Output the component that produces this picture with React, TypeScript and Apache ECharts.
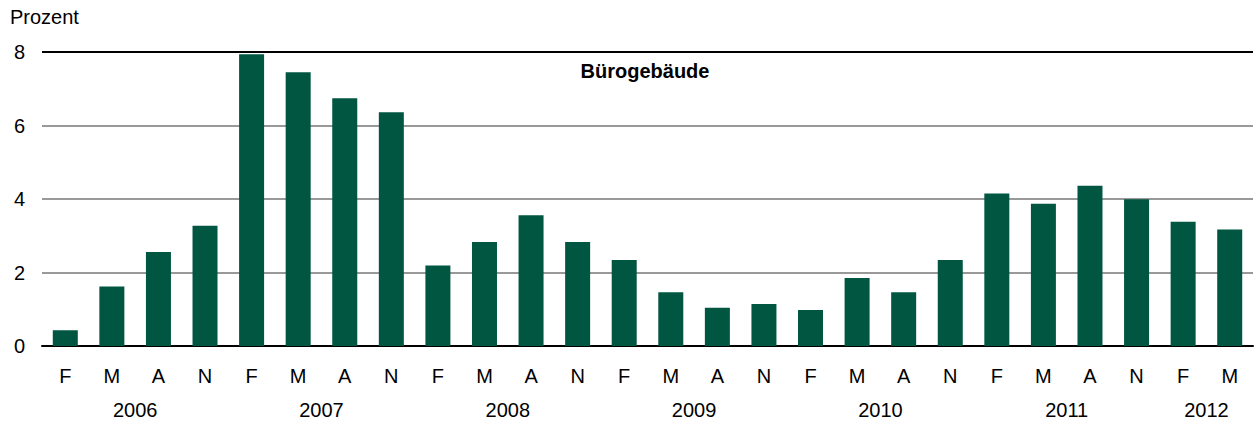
import React, { useEffect, useRef } from "react";
import * as echarts from "echarts";

const quarters = [
  "F", "M", "A", "N",
  "F", "M", "A", "N",
  "F", "M", "A", "N",
  "F", "M", "A", "N",
  "F", "M", "A", "N",
  "F", "M", "A", "N",
  "F", "M",
];
const values = [
  0.43, 1.62, 2.56, 3.27,
  7.94, 7.45, 6.74, 6.36,
  2.19, 2.83, 3.56, 2.83,
  2.34, 1.46, 1.04, 1.14,
  0.98, 1.85, 1.46, 2.34,
  4.15, 3.87, 4.36, 3.99,
  3.38, 3.17,
];
const years = ["2006", "2007", "2008", "2009", "2010", "2011", "2012"];
const yearCounts = [4, 4, 4, 4, 4, 4, 2];
const yTicks = [0, 2, 4, 6, 8];

const FONT = "'Liberation Sans', Arial, Helvetica, sans-serif";

export default function App() {
  const ref = useRef<HTMLDivElement>(null);
  useEffect(() => {
    if (!ref.current) return;
    const chart = echarts.init(ref.current, undefined, { renderer: "svg" });
    const yearLabelAt: Record<string, string> = {};
    let cum = 0;
    yearCounts.forEach((c, i) => {
      yearLabelAt[String(cum + c / 2)] = years[i];
      cum += c;
    });
    chart.setOption({
      animation: false,
      textStyle: { fontFamily: FONT },
      grid: { left: 42, right: 4, top: 52, bottom: 80, containLabel: false },
      graphic: [
        {
          type: "text",
          left: 10,
          top: 7,
          style: { text: "Prozent", fontSize: 20, fontFamily: FONT, fill: "#000" },
        },
        {
          type: "text",
          x: 645,
          y: 71,
          style: {
            text: "Bürogebäude",
            fontSize: 20,
            fontWeight: "bold",
            fontFamily: FONT,
            fill: "#000",
            align: "center",
            verticalAlign: "middle",
          },
        },
      ],
      xAxis: [
        {
          type: "category",
          data: quarters,
          axisLine: { show: true, lineStyle: { color: "#000", width: 2 } },
          axisTick: { show: false },
          axisLabel: { color: "#000", fontSize: 20, margin: 20, interval: 0, fontFamily: FONT },
        },
        {
          type: "value",
          min: 0,
          max: quarters.length,
          interval: 1,
          position: "bottom",
          offset: 34,
          axisLine: { show: false },
          axisTick: { show: false },
          splitLine: { show: false },
          axisLabel: {
            color: "#000",
            fontSize: 20,
            margin: 20,
            fontFamily: FONT,
            formatter: (v: number) => yearLabelAt[String(v)] || "",
          },
        },
      ],
      yAxis: {
        type: "value",
        min: yTicks[0],
        max: yTicks[yTicks.length - 1],
        interval: 2,
        axisLine: { show: false },
        axisTick: { show: false },
        axisLabel: { color: "#000", fontSize: 20, margin: 17, fontFamily: FONT },
        splitLine: {
          show: true,
          lineStyle: { color: ["#000", "#999", "#999", "#999", "#000"], width: 2 },
        },
      },
      series: [
        {
          type: "bar",
          data: values,
          barWidth: 25,
          itemStyle: { color: "#005641" },
        },
      ],
    });
    return () => chart.dispose();
  }, []);
  return (
    <div
      ref={ref}
      style={{ position: "absolute", left: 0, top: 0, width: 1257, height: 426 }}
    />
  );
}
